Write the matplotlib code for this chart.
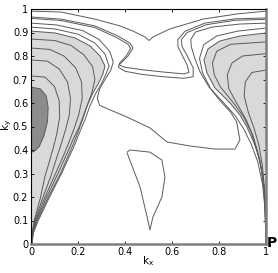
import matplotlib
matplotlib.use("Agg")
import matplotlib.pyplot as plt
import numpy as np

# ---- contour lines, as (kx, ky) points ----
line_top = [(0, 0.991), (0.128, 0.987), (0.272, 0.957), (0.379, 0.928), (0.434, 0.906),
            (0.485, 0.881), (0.502, 0.866), (0.519, 0.881), (0.591, 0.915), (0.732, 0.957),
            (0.877, 0.979), (1.0, 0.991)]

loop_inner = [(0, 0.966), (0.128, 0.957), (0.272, 0.928), (0.37, 0.885), (0.421, 0.855),
              (0.434, 0.834), (0.413, 0.80), (0.385, 0.772), (0.375, 0.762), (0.40, 0.752),
              (0.47, 0.742), (0.56, 0.732), (0.65, 0.724), (0.672, 0.73), (0.665, 0.76),
              (0.645, 0.80), (0.625, 0.84), (0.625, 0.87), (0.655, 0.905), (0.74, 0.94),
              (0.868, 0.958), (1.0, 0.962)]

loop_outer = [(0, 0.96), (0.128, 0.951), (0.272, 0.921), (0.365, 0.878), (0.413, 0.85),
              (0.424, 0.832), (0.405, 0.80), (0.377, 0.77), (0.372, 0.752), (0.40, 0.735),
              (0.47, 0.722), (0.56, 0.712), (0.65, 0.705), (0.69, 0.712), (0.69, 0.75),
              (0.665, 0.80), (0.643, 0.84), (0.64, 0.87), (0.665, 0.90), (0.745, 0.933),
              (0.868, 0.952), (1.0, 0.956)]

mid_line = [(0, 0.94), (0.11, 0.932), (0.22, 0.908), (0.29, 0.87), (0.335, 0.82),
            (0.35, 0.775), (0.34, 0.74), (0.315, 0.70), (0.292, 0.66), (0.282, 0.62),
            (0.292, 0.59), (0.35, 0.565), (0.409, 0.54), (0.506, 0.494), (0.579, 0.434),
            (0.677, 0.417), (0.783, 0.404), (0.868, 0.404), (0.889, 0.443), (0.875, 0.52),
            (0.85, 0.56), (0.80, 0.615), (0.755, 0.672), (0.718, 0.735), (0.697, 0.79),
            (0.682, 0.84), (0.68, 0.87), (0.70, 0.902), (0.77, 0.923), (0.889, 0.936),
            (1.0, 0.94)]

left_outer = [(0, 0.923), (0.102, 0.915), (0.2, 0.893), (0.272, 0.855), (0.315, 0.808),
              (0.332, 0.757), (0.318, 0.72), (0.298, 0.68), (0.275, 0.64), (0.252, 0.59),
              (0.23, 0.53), (0.205, 0.47), (0.185, 0.42), (0.13, 0.30), (0.077, 0.196),
              (0.03, 0.098), (0.01, 0.047), (0.004, 0.0)]

left_shade = [(0, 0.906), (0.102, 0.898), (0.187, 0.877), (0.251, 0.843), (0.294, 0.80),
              (0.315, 0.757), (0.305, 0.72), (0.285, 0.68), (0.262, 0.64), (0.24, 0.59),
              (0.22, 0.53), (0.198, 0.47), (0.178, 0.42), (0.123, 0.294), (0.072, 0.196),
              (0.026, 0.098), (0.009, 0.047), (0.004, 0.0)]

left_in1 = [(0, 0.872), (0.1, 0.866), (0.17, 0.845), (0.225, 0.805), (0.262, 0.755),
            (0.272, 0.70), (0.258, 0.64), (0.232, 0.57), (0.205, 0.498), (0.178, 0.443),
            (0.158, 0.396), (0.112, 0.294), (0.065, 0.196), (0.022, 0.098), (0.008, 0.047),
            (0.004, 0.0)]
left_in2 = [(0, 0.834), (0.08, 0.828), (0.14, 0.80), (0.19, 0.75), (0.215, 0.69),
            (0.218, 0.62), (0.203, 0.55), (0.183, 0.49), (0.16, 0.43), (0.142, 0.385),
            (0.10, 0.29), (0.058, 0.196), (0.019, 0.098), (0.007, 0.047), (0.004, 0.0)]
left_in3 = [(0, 0.783), (0.07, 0.778), (0.12, 0.745), (0.155, 0.69), (0.168, 0.62),
            (0.163, 0.55), (0.148, 0.49), (0.13, 0.43), (0.115, 0.385), (0.085, 0.29),
            (0.05, 0.196), (0.016, 0.098), (0.006, 0.047), (0.004, 0.0)]
left_in4 = [(0, 0.715), (0.06, 0.71), (0.10, 0.67), (0.12, 0.61), (0.122, 0.54),
            (0.11, 0.47), (0.095, 0.41), (0.075, 0.34), (0.06, 0.29), (0.04, 0.196),
            (0.013, 0.098), (0.005, 0.047), (0.003, 0.0)]
left_core = [(0, 0.668), (0.04, 0.66), (0.065, 0.63), (0.073, 0.58), (0.07, 0.52),
             (0.055, 0.46), (0.035, 0.415), (0.015, 0.395), (0, 0.39)]

right_outer = [(1, 0.919), (0.88, 0.906), (0.79, 0.885), (0.735, 0.848), (0.717, 0.79),
               (0.73, 0.728), (0.765, 0.66), (0.825, 0.595), (0.87, 0.545), (0.905, 0.49),
               (0.937, 0.425), (0.965, 0.35), (0.986, 0.25), (0.996, 0.145), (1, 0.0)]
right_shade = [(1, 0.898), (0.889, 0.885), (0.804, 0.864), (0.753, 0.83), (0.736, 0.783),
               (0.749, 0.728), (0.783, 0.664), (0.847, 0.60), (0.889, 0.549), (0.919, 0.498),
               (0.949, 0.43), (0.974, 0.357), (0.991, 0.251), (0.998, 0.145), (1, 0.0)]
right_in1 = [(1, 0.86), (0.85, 0.85), (0.79, 0.82), (0.772, 0.77), (0.78, 0.72),
             (0.805, 0.67), (0.862, 0.60), (0.905, 0.54), (0.935, 0.48), (0.958, 0.41),
             (0.978, 0.33), (0.993, 0.22), (0.998, 0.1), (1, 0.0)]
right_in2 = [(1, 0.81), (0.9, 0.80), (0.855, 0.77), (0.835, 0.72), (0.842, 0.66),
             (0.875, 0.60), (0.915, 0.53), (0.945, 0.46), (0.968, 0.38), (0.984, 0.30),
             (0.994, 0.20), (1, 0.0)]
right_in3 = [(1, 0.74), (0.94, 0.73), (0.912, 0.69), (0.907, 0.63), (0.925, 0.56),
             (0.95, 0.49), (0.97, 0.42), (0.985, 0.33), (0.995, 0.22), (1, 0.0)]

island = [(0.409, 0.391), (0.421, 0.40), (0.506, 0.391), (0.557, 0.357), (0.57, 0.285),
          (0.557, 0.20), (0.519, 0.115), (0.506, 0.06), (0.494, 0.115), (0.464, 0.243),
          (0.409, 0.387)]

x_ticks = [0, 0.2, 0.4, 0.6, 0.8, 1]
x_labels = ["0", "0.2", "0.4", "0.6", "0.8", "1"]
y_ticks = [0, 0.1, 0.2, 0.3, 0.4, 0.5, 0.6, 0.7, 0.8, 0.9, 1]
y_labels = ["0", "0.1", "0.2", "0.3", "0.4", "0.5", "0.6", "0.7", "0.8", "0.9", "1"]

LIGHT = "#d9d9d9"
DARK = "#8c8c8c"
LINE = "#5a5a5a"

W, H = 278, 273
fig = plt.figure(figsize=(W / 100, H / 100), dpi=100)
ax = fig.add_axes([31 / W, 29 / H, 235 / W, 235 / H])

def xy(pts):
    a = np.array(pts)
    return a[:, 0], a[:, 1]

# shaded regions
lx, ly = xy(left_shade)
ax.fill(np.r_[lx, 0], np.r_[ly, ly[0]], color=LIGHT, lw=0)
rx, ry = xy(right_shade)
ax.fill(np.r_[rx, 1], np.r_[ry, ry[0]], color=LIGHT, lw=0)
cx, cy = xy(left_core)
ax.fill(cx, cy, color=DARK, lw=0)

for pts in [line_top, loop_inner, loop_outer, mid_line, left_outer, left_shade,
            left_in1, left_in2, left_in3, left_in4, left_core,
            right_outer, right_shade, right_in1, right_in2, right_in3, island]:
    x, y = xy(pts)
    ax.plot(x, y, color=LINE, lw=0.7, solid_capstyle="round", solid_joinstyle="round")

ax.set_xlim(0, 1)
ax.set_ylim(0, 1)
ax.set_xticks(x_ticks)
ax.set_xticklabels(x_labels)
ax.set_yticks(y_ticks)
ax.set_yticklabels(y_labels)
ax.tick_params(direction="in", length=2.5, width=0.6, labelsize=7, pad=2,
               top=True, right=True, colors="black")
for s in ["left", "top"]:
    ax.spines[s].set_linewidth(0.8)
    ax.spines[s].set_color("black")
for s in ["right", "bottom"]:
    ax.spines[s].set_linewidth(1.8)
    ax.spines[s].set_color("#7f7f7f")

fig.text(148 / W, 1 - 261 / H, r"k$_\mathregular{x}$", fontsize=7.5,
         ha="center", va="center")
fig.text(7 / W, 1 - 125 / H, r"k$_\mathregular{y}$", fontsize=7.5,
         ha="center", va="center", rotation=90)
ax.text(1.005, 0.005, "P", transform=ax.transAxes, fontsize=10, fontweight="bold",
        ha="left", va="center")

fig.savefig("out.png", dpi=100)
